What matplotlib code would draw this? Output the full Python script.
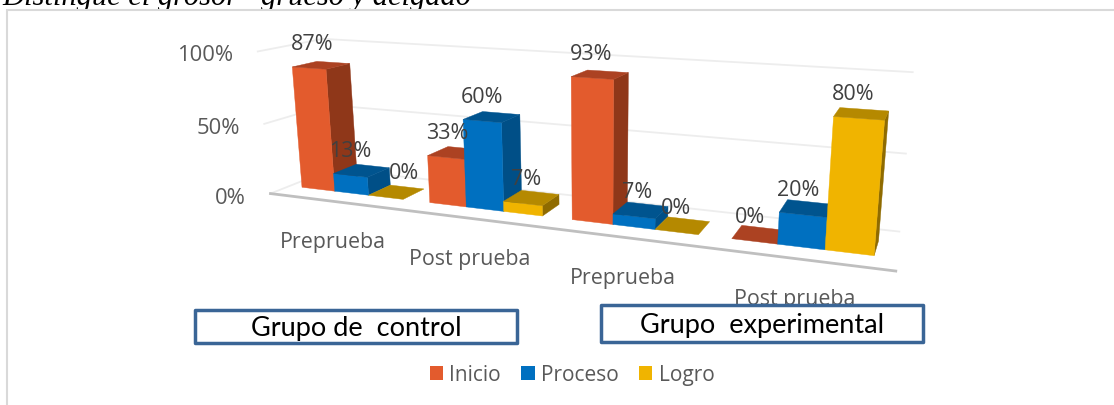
import numpy as np
import matplotlib
matplotlib.use('Agg')
import matplotlib.pyplot as plt
from matplotlib.patches import Polygon, Rectangle, Patch

categories = ['Preprueba', 'Post prueba', 'Preprueba', 'Post prueba']
inicio = [87, 33, 93, 0]
proceso = [13, 60, 7, 20]
logro = [0, 7, 0, 80]
y_ticks = [0, 50, 100]
series_names = ['Inicio', 'Proceso', 'Logro']

# front, side and top colour of each series
faces = [('#E35B2D', '#8F3719', '#AC4222'),
         ('#0070C0', '#004F87', '#00548F'),
         ('#F0B400', '#8F6B00', '#B58900')]
gap = 0.2
bar_w = (1 - gap) / 3
d0, d1 = 0.35, 0.65      # depth of the bars
wall_f, wall_b = 0.12, 0.9  # depth of the floor

# Perspective view: (category x, depth, value) -> pixels
CAMERA = np.array([[109.855, 122.089, -22.751, 259.901],
                   [5.0482, -10.7938, -146.232, 198.78],
                   [-0.0531699, 0.124939, -0.0380761, 1.0]])


def project(x, d, v):
    p = CAMERA @ np.array([x, d, v, 1.0])
    return p[0] / p[2], p[1] / p[2]


plt.rcParams['font.family'] = ['Open Sans', 'DejaVu Sans']
fig = plt.figure(figsize=(11.14, 4.06), dpi=100)
ax = fig.add_axes([0, 0, 1, 1])
ax.set_xlim(0, 1114)
ax.set_ylim(406, 0)
ax.axis('off')

# Heading cut off by the chart frame
ax.text(2, 5, 'Distingue el grosor   grueso y delgado', family='Liberation Serif', style='italic',
        fontsize=22, color='black', va='baseline', zorder=1)
ax.add_patch(Rectangle((7, 11), 1120, 400, fc='white', ec='#D9D9D9', lw=1.5, zorder=2))

# Walls
for t in y_ticks:
    v = t / 100
    pts = [project(0, wall_f, v), project(0, wall_b, v), project(4, wall_b, v)]
    ax.plot(*zip(*pts), color='#EDEDED', lw=1.3, zorder=3)
    px, py = project(0, wall_f, v)
    ax.text(px - 24.5, py + 3.5, f'{t}%', ha='right', va='center', fontsize=15.8, color='#595959', zorder=8)
ax.plot(*zip(project(0, wall_f, 0), project(4.03, wall_f, 0)), color='#BFBFBF', lw=2, zorder=3)

# Bars, left to right so nearer ones cover the side of the previous one
z = 4
labels = []
for i in range(len(categories)):
    for j, vals in enumerate([inicio, proceso, logro]):
        x0 = i + gap / 2 + j * bar_w
        x1 = x0 + bar_w
        v = vals[i] / 100
        front, side, top = faces[j]
        if v > 0:
            ax.add_patch(Polygon([project(x1, d0, 0), project(x1, d1, 0), project(x1, d1, v), project(x1, d0, v)],
                                 fc=side, ec=side, lw=0.3, zorder=z))
            ax.add_patch(Polygon([project(x0, d0, 0), project(x1, d0, 0), project(x1, d0, v), project(x0, d0, v)],
                                 fc=front, ec=front, lw=0.3, zorder=z))
        ax.add_patch(Polygon([project(x0, d0, v), project(x1, d0, v), project(x1, d1, v), project(x0, d1, v)],
                             fc=top, ec=top, lw=0.3, zorder=z))
        z += 0.01
        labels.append(((x0 + x1) / 2, v, vals[i]))

# small sideways nudges, Excel places these on its own
nudge = [0, -3, 16, 0, 0, 4, 0, 5, 2, 0, 0, 0]
for (x, v, val), n in zip(labels, nudge):
    px, py = project(x, d0, v)
    ax.text(px + 4 - 2.5 * x + n, py - 25, f'{val}%', ha='center', va='center', fontsize=15.5, color='#404040', zorder=9)

for i, name in enumerate(categories):
    px, py = project(i + 0.5, wall_f, 0)
    ax.text(px, py + 40, name, ha='center', va='center', fontsize=15.4, color='#595959', zorder=8)

# Group boxes over the axis labels
for (x, y, w, h, name) in [(195, 311, 322, 33, 'Grupo de  control'), (601, 306, 322, 37, 'Grupo  experimental')]:
    ax.add_patch(Rectangle((x, y), w, h, fc='white', ec='#3A6596', lw=2.5, joinstyle='round', zorder=10))
    ax.text(x + w / 2, y + h / 2 + 1, name, family='Lato', ha='center', va='center', fontsize=19.5, color='black', zorder=11)

handles = [Patch(fc=faces[k][0], ec='none', label=series_names[k]) for k in range(3)]
ax.legend(handles=handles, ncol=3, loc='center', bbox_to_anchor=(572 / 1114, 1 - 376 / 406), frameon=False,
          fontsize=15, labelcolor='#595959', handlelength=0.63, handleheight=0.63, handletextpad=0.3,
          columnspacing=1.0)

plt.savefig('out.png', dpi=100)
